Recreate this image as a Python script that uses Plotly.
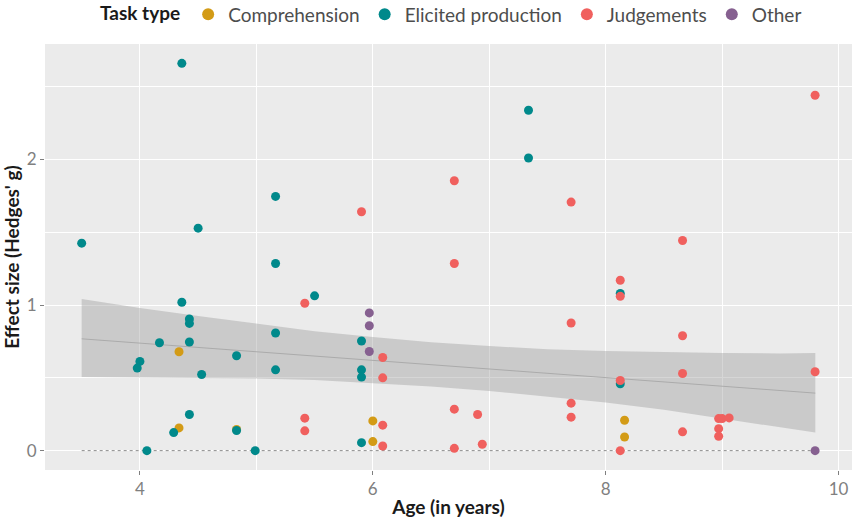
import plotly.graph_objects as go

# ---- data ----
comp_x = [4.336, 4.336, 4.83, 6.0, 6.0, 8.162, 8.162]
comp_y = [0.679, 0.156, 0.145, 0.204, 0.062, 0.209, 0.094]

elic_x = [4.36, 5.165, 4.50, 3.50, 5.165, 4.36, 5.50, 4.425, 4.425, 4.168,
          4.425, 5.165, 4.83, 4.0, 3.977, 4.53, 5.165, 4.425, 4.29, 4.83,
          4.06, 4.99, 7.337, 7.337, 5.903, 5.903, 5.903, 5.903, 8.125, 8.125]
elic_y = [2.66, 1.746, 1.528, 1.425, 1.285, 1.019, 1.063, 0.904, 0.874, 0.741,
          0.746, 0.808, 0.652, 0.613, 0.567, 0.523, 0.555, 0.248, 0.124, 0.138,
          0.0, 0.0, 2.338, 2.01, 0.753, 0.555, 0.505, 0.055, 1.08, 0.459]

judg_x = [5.416, 5.416, 5.416, 6.70, 5.903, 6.70, 6.085, 6.085, 6.085, 6.085,
          6.70, 6.90, 6.70, 6.94, 9.798, 7.703, 8.66, 8.125, 8.125, 7.703,
          8.66, 9.798, 8.66, 8.125, 7.703, 7.703, 8.97, 9.0, 9.06, 8.97,
          8.97, 8.66, 8.125]
judg_y = [1.012, 0.223, 0.136, 1.854, 1.641, 1.285, 0.64, 0.50, 0.175, 0.032,
          0.285, 0.248, 0.016, 0.044, 2.441, 1.707, 1.443, 1.170, 1.06, 0.877,
          0.789, 0.542, 0.530, 0.482, 0.326, 0.230, 0.220, 0.22, 0.225, 0.151,
          0.099, 0.129, 0.0]

other_x = [5.97, 5.97, 5.97, 9.798]
other_y = [0.946, 0.858, 0.681, 0.0]

smooth_x = [3.5, 9.8]
smooth_y = [0.768, 0.395]

ribbon_x = [3.5, 4.0, 4.5, 5.0, 5.5, 6.0, 6.5, 7.0, 7.5, 8.0, 8.5, 9.0, 9.5, 9.8]
ribbon_upper = [1.042, 0.98, 0.925, 0.87, 0.82, 0.78, 0.745, 0.718, 0.697, 0.684,
                0.675, 0.670, 0.668, 0.670]
ribbon_lower = [0.505, 0.503, 0.500, 0.495, 0.485, 0.465, 0.44, 0.41, 0.372, 0.33,
                0.28, 0.225, 0.16, 0.124]

zero_x = [3.5, 9.8]
zero_y = [0.0, 0.0]

groups = [
    ("Comprehension", comp_x, comp_y, "#D39B16"),
    ("Elicited production", elic_x, elic_y, "#00898B"),
    ("Judgements", judg_x, judg_y, "#F0605E"),
    ("Other", other_x, other_y, "#866090"),
]

fig = go.Figure()

# confidence ribbon
fig.add_trace(go.Scatter(
    x=ribbon_x + ribbon_x[::-1],
    y=ribbon_upper + ribbon_lower[::-1],
    fill="toself", fillcolor="rgba(153,153,153,0.4)",
    line=dict(width=0), mode="lines", showlegend=False, hoverinfo="skip"))

# zero reference line
fig.add_trace(go.Scatter(x=zero_x, y=zero_y, mode="lines",
                         line=dict(color="#8C8C8C", width=1, dash="dot"),
                         showlegend=False, hoverinfo="skip"))

# fitted line
fig.add_trace(go.Scatter(x=smooth_x, y=smooth_y, mode="lines",
                         line=dict(color="#ABABAB", width=1),
                         showlegend=False, hoverinfo="skip"))

for name, xs, ys, col in groups:
    fig.add_trace(go.Scatter(x=xs, y=ys, mode="markers", name=name,
                             marker=dict(color=col, size=9)))

font_family = "Lato, Open Sans, sans-serif"

fig.update_layout(
    width=854, height=520,
    margin=dict(l=45, r=2, t=44, b=50, autoexpand=False),
    paper_bgcolor="white", plot_bgcolor="#EBEBEB",
    font=dict(family=font_family, color="#333333"),
    showlegend=True,
    legend=dict(orientation="h", x=0.505, xanchor="center", y=1.025, yanchor="bottom",
                title=dict(text="<b>Task type</b>", side="left",
                           font=dict(size=19, color="#1A1A1A")),
                font=dict(size=19, color="#4D4D4D"),
                itemsizing="constant", bgcolor="rgba(0,0,0,0)"),
)

fig.update_xaxes(
    range=[3.185, 10.115], tickvals=[4, 6, 8, 10], ticktext=["4", "6", "8", "10"],
    showgrid=True, gridcolor="white", gridwidth=1.3, zeroline=False,
    minor=dict(tickvals=[3, 5, 7, 9], showgrid=True, gridcolor="white", gridwidth=0.6),
    ticks="outside", ticklen=4, tickcolor="#7F7F7F", tickwidth=1,
    tickfont=dict(size=17, color="#808080"),
    title=dict(text="<b>Age (in years)</b>", font=dict(size=19, color="#1A1A1A"), standoff=2),
    showline=False, automargin=False,
)
fig.update_yaxes(
    range=[-0.133, 2.793], tickvals=[0, 1, 2], ticktext=["0", "1", "2"],
    showgrid=True, gridcolor="white", gridwidth=1.3, zeroline=False,
    minor=dict(tickvals=[0.5, 1.5, 2.5], showgrid=True, gridcolor="white", gridwidth=0.6),
    ticks="outside", ticklen=4, tickcolor="#7F7F7F", tickwidth=1,
    tickfont=dict(size=17, color="#808080"),
    title=dict(text="<b>Effect size (Hedges' g)</b>", font=dict(size=19, color="#1A1A1A"), standoff=2),
    showline=False, automargin=False,
)

fig.write_html("out.html", config={"displayModeBar": False},
               post_script="document.body.style.margin='0';")
